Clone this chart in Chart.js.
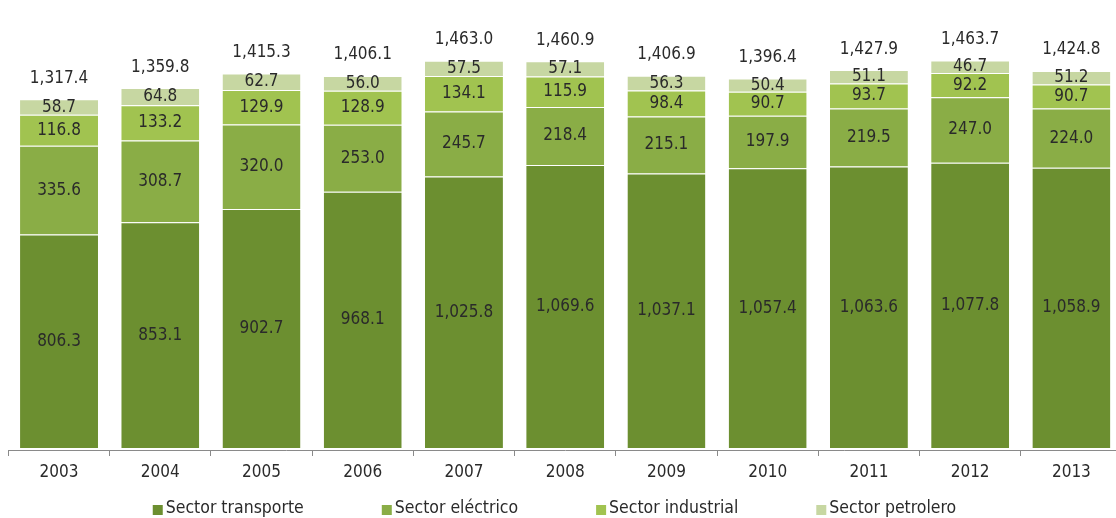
<!DOCTYPE html>
<html>
<head>
<meta charset="utf-8">
<script src="https://cdn.jsdelivr.net/npm/chart.js@4.4.1/dist/chart.umd.min.js"></script>
<style>
  html, body { margin: 0; padding: 0; background: #fff; overflow: hidden; }
  #wrap { position: relative; width: 1122px; height: 518px; }
</style>
</head>
<body>
<div id="wrap"><canvas id="c"></canvas></div>
<script>
// Años
const years = ['2003', '2004', '2005', '2006', '2007', '2008', '2009', '2010', '2011', '2012', '2013'];

// Consumo por sector
const transporte = [806.3, 853.1, 902.7, 968.1, 1025.8, 1069.6, 1037.1, 1057.4, 1063.6, 1077.8, 1058.9];
const electrico  = [335.6, 308.7, 320.0, 253.0, 245.7, 218.4, 215.1, 197.9, 219.5, 247.0, 224.0];
const industrial = [116.8, 133.2, 129.9, 128.9, 134.1, 115.9, 98.4, 90.7, 93.7, 92.2, 90.7];
const petrolero  = [58.7, 64.8, 62.7, 56.0, 57.5, 57.1, 56.3, 50.4, 51.1, 46.7, 51.2];

// Totales publicados
const totals = [1317.4, 1359.8, 1415.3, 1406.1, 1463.0, 1460.9, 1406.9, 1396.4, 1427.9, 1463.7, 1424.8];

const seriesNames = ['Sector transporte', 'Sector eléctrico', 'Sector industrial', 'Sector petrolero'];
const seriesColors = ['#6c8f30', '#8aad46', '#a1c350', '#c7d7a2'];

const FONT = "'DejaVu Sans Condensed', 'DejaVu Sans', sans-serif";
const FONT_SIZE = 17;
const TEXT = '#2a2a2a';

const fmt = v => v.toLocaleString('en-US', { minimumFractionDigits: 1, maximumFractionDigits: 1 });

const seriesData = [transporte, electrico, industrial, petrolero];

const datasets = seriesData.map((d, i) => ({
  label: seriesNames[i],
  data: d,
  backgroundColor: seriesColors[i],
  borderColor: 'rgba(255,255,255,0.6)',
  borderWidth: { top: 1, right: 0, bottom: 0, left: 0 },
  borderSkipped: false,
  barPercentage: 0.77,
  categoryPercentage: 1.0
}));

// Etiquetas de valor dentro de cada segmento y total sobre cada barra
const labelPlugin = {
  id: 'segmentLabels',
  afterDatasetsDraw(chart) {
    const ctx = chart.ctx;
    ctx.save();
    ctx.font = FONT_SIZE + 'px ' + FONT;
    ctx.fillStyle = TEXT;
    ctx.textAlign = 'center';
    ctx.textBaseline = 'middle';
    chart.data.datasets.forEach((ds, di) => {
      const meta = chart.getDatasetMeta(di);
      meta.data.forEach((bar, i) => {
        ctx.fillText(fmt(ds.data[i]), bar.x, (bar.y + bar.base) / 2);
      });
    });
    const top = chart.getDatasetMeta(chart.data.datasets.length - 1);
    top.data.forEach((bar, i) => {
      ctx.fillText(fmt(totals[i]), bar.x, bar.y - 21);
    });
    ctx.restore();
  }
};

// Leyenda inferior
const legendPlugin = {
  id: 'bottomLegend',
  afterDraw(chart) {
    const ctx = chart.ctx;
    ctx.save();
    ctx.font = '17.5px ' + FONT;
    ctx.textBaseline = 'middle';
    const box = 10, gapText = 3, gapItem = 78;
    const widths = chart.data.datasets.map(ds => box + gapText + ctx.measureText(ds.label).width);
    const total = widths.reduce((a, b) => a + b, 0) + gapItem * (widths.length - 1);
    let x = 554.5 - total / 2;
    const y = 508;
    chart.data.datasets.forEach((ds, i) => {
      ctx.fillStyle = ds.backgroundColor;
      ctx.fillRect(x, y - 3, box, box);
      ctx.fillStyle = TEXT;
      ctx.textAlign = 'left';
      ctx.fillText(ds.label, x + box + gapText, y);
      x += widths[i] + gapItem;
    });
    ctx.restore();
  }
};

new Chart(document.getElementById('c'), {
  type: 'bar',
  data: { labels: years, datasets },
  options: {
    responsive: true,
    maintainAspectRatio: false,
    animation: false,
    layout: { padding: { top: 51, left: 8.4, right: 0, bottom: 32 } },
    plugins: {
      legend: { display: false },
      tooltip: { enabled: false }
    },
    scales: {
      x: {
        stacked: true,
        offset: true,
        grid: { display: true, offset: true, drawOnChartArea: false, drawTicks: true, tickLength: 6, color: '#8a8a8a' },
        border: { display: true, color: '#8a8a8a' },
        ticks: { color: TEXT, font: { family: FONT, size: FONT_SIZE }, padding: 6 },
        afterFit(scale) { scale.height = 36; }
      },
      y: {
        stacked: true,
        display: false,
        min: -7.5,
        max: 1500
      }
    }
  },
  plugins: [labelPlugin, legendPlugin]
});
</script>
</body>
</html>
